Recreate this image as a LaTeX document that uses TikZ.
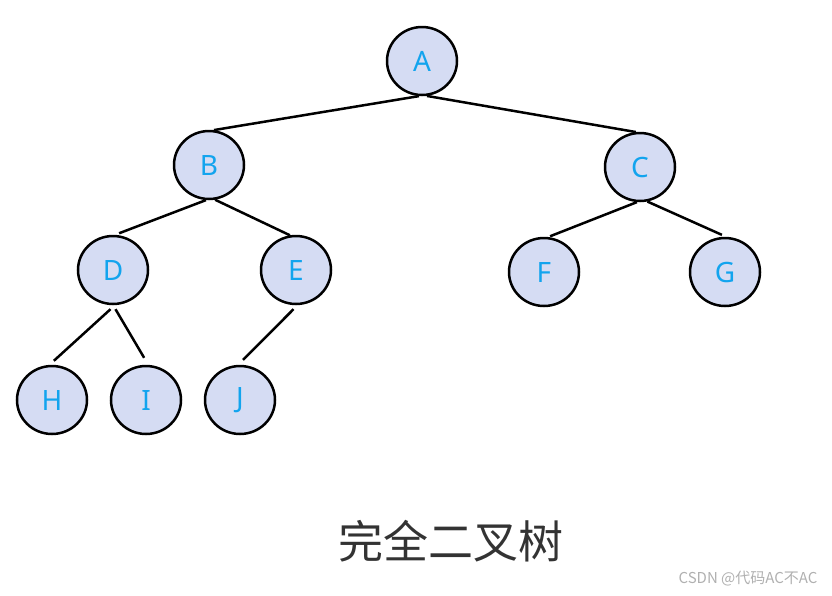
\documentclass[tikz,border=0pt]{standalone}
\usepackage{fontspec}
\setmainfont{Noto Sans}
\newfontfamily\cjk{Noto Sans CJK SC}
\usetikzlibrary{shapes.geometric}
\definecolor{nodefill}{HTML}{D5DCF3}
\definecolor{nodetext}{HTML}{12A4EE}
\definecolor{captext}{HTML}{333333}
\definecolor{wmtext}{HTML}{B0B0B0}
\begin{document}
\begin{tikzpicture}[x=1pt,y=-1pt,
  tnode/.style={ellipse, draw=black, line width=2.5pt, fill=nodefill, minimum width=70pt, minimum height=68pt, inner sep=0pt, text=nodetext, font=\fontsize{28}{28}\selectfont},
  tedge/.style={draw=black, line width=2.5pt}]
\useasboundingbox (0,0) rectangle (832,595);
\node[tnode] (A) at (422,61) {A};
\node[tnode] (B) at (209,165) {B};
\node[tnode] (C) at (640,167) {C};
\node[tnode] (D) at (113,270) {D};
\node[tnode] (E) at (296,270) {E};
\node[tnode] (F) at (544,272) {F};
\node[tnode] (G) at (725,272) {G};
\node[tnode] (H) at (52,400) {H};
\node[tnode] (I) at (146,400) {I};
\node[tnode] (J) at (240,400) {J};
\draw[tedge] (A.265) -- (B.82);
\draw[tedge] (A.278) -- (C.97);
\draw[tedge] (B.265) -- ([yshift=2pt]D.80);
\draw[tedge] (B.280) -- (E.100);
\draw[tedge] ([yshift=-4pt]D.266) -- ([yshift=4pt]H.87);
\draw[tedge] ([yshift=-4pt]D.274) -- ([yshift=7pt]I.93);
\draw[tedge] ([yshift=-4pt]E.266) -- ([yshift=5pt]J.85);
\draw[tedge] (C.265) -- ([yshift=1pt]F.80);
\draw[tedge] (C.282) -- ([yshift=2pt]G.95);
\node[font=\cjk\fontsize{45}{45}\selectfont, text=captext] (cap) at (451,541) {完全二叉树};
\node[font=\cjk\fontsize{15}{15}\selectfont, text=wmtext, anchor=east] (wm) at (821,579) {CSDN @代码AC不AC};
\end{tikzpicture}
\end{document}
